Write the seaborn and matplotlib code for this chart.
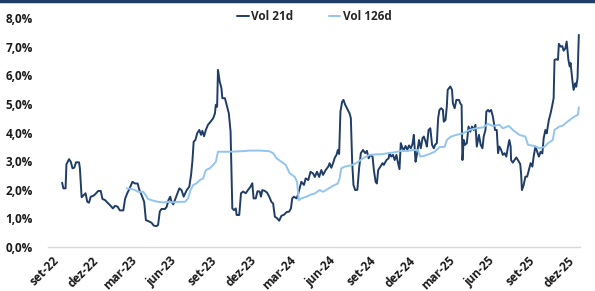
import pandas as pd
import matplotlib.pyplot as plt
import matplotlib.ticker as mticker
from matplotlib.lines import Line2D
import seaborn as sns

# ─── DATA ─────────────────────────────────────────────────────────────────────
vol21_dates = [
    "2022-09-24", "2022-09-27", "2022-10-02", "2022-10-04", "2022-10-10", "2022-10-14",
    "2022-10-18", "2022-10-22", "2022-10-26", "2022-11-02", "2022-11-04", "2022-11-08",
    "2022-11-12", "2022-11-17", "2022-11-21", "2022-11-25", "2022-11-29", "2022-12-05",
    "2022-12-09", "2022-12-16", "2022-12-22", "2022-12-26", "2023-01-01", "2023-01-06",
    "2023-01-12", "2023-01-19", "2023-01-24", "2023-01-30", "2023-02-04", "2023-02-12",
    "2023-02-16", "2023-02-21", "2023-02-26", "2023-03-05", "2023-03-11", "2023-03-17",
    "2023-03-21", "2023-03-26", "2023-04-01", "2023-04-05", "2023-04-10", "2023-04-18",
    "2023-04-23", "2023-04-29", "2023-05-03", "2023-05-07", "2023-05-11", "2023-05-19",
    "2023-05-23", "2023-05-27", "2023-05-31", "2023-06-03", "2023-06-07", "2023-06-11",
    "2023-06-15", "2023-06-21", "2023-06-26", "2023-07-01", "2023-07-08", "2023-07-14",
    "2023-07-18", "2023-07-21", "2023-07-24", "2023-07-28", "2023-08-01", "2023-08-06",
    "2023-08-10", "2023-08-13", "2023-08-17", "2023-08-21", "2023-08-26", "2023-09-01",
    "2023-09-07", "2023-09-11", "2023-09-13", "2023-09-16", "2023-09-18", "2023-09-22",
    "2023-09-26", "2023-09-28", "2023-10-04", "2023-10-08", "2023-10-13", "2023-10-17",
    "2023-10-19", "2023-10-21", "2023-10-25", "2023-10-29", "2023-10-31", "2023-11-06",
    "2023-11-10", "2023-11-15", "2023-11-21", "2023-11-26", "2023-12-02", "2023-12-06",
    "2023-12-09", "2023-12-14", "2023-12-18", "2023-12-23", "2023-12-26", "2023-12-29",
    "2024-01-04", "2024-01-09", "2024-01-14", "2024-01-19", "2024-01-23", "2024-01-27",
    "2024-02-01", "2024-02-06", "2024-02-11", "2024-02-17", "2024-02-23", "2024-02-29",
    "2024-03-04", "2024-03-07", "2024-03-11", "2024-03-17", "2024-03-20", "2024-03-24",
    "2024-03-28", "2024-04-03", "2024-04-07", "2024-04-13", "2024-04-18", "2024-04-24",
    "2024-04-28", "2024-05-03", "2024-05-08", "2024-05-13", "2024-05-17", "2024-05-23",
    "2024-05-29", "2024-06-01", "2024-06-05", "2024-06-09", "2024-06-13", "2024-06-17",
    "2024-06-20", "2024-06-23", "2024-06-26", "2024-06-30", "2024-07-03", "2024-07-07",
    "2024-07-11", "2024-07-17", "2024-07-20", "2024-07-23", "2024-07-26", "2024-07-30",
    "2024-08-04", "2024-08-08", "2024-08-12", "2024-08-17", "2024-08-22", "2024-08-26",
    "2024-08-30", "2024-09-03", "2024-09-08", "2024-09-11", "2024-09-15", "2024-09-18",
    "2024-09-21", "2024-09-26", "2024-10-01", "2024-10-04", "2024-10-10", "2024-10-15",
    "2024-10-17", "2024-10-21", "2024-10-25", "2024-10-29", "2024-11-02", "2024-11-05",
    "2024-11-09", "2024-11-12", "2024-11-16", "2024-11-19", "2024-11-23", "2024-11-27",
    "2024-12-01", "2024-12-05", "2024-12-09", "2024-12-12", "2024-12-16", "2024-12-19",
    "2024-12-24", "2024-12-28", "2025-01-01", "2025-01-04", "2025-01-08", "2025-01-11",
    "2025-01-15", "2025-01-19", "2025-01-23", "2025-01-27", "2025-01-30", "2025-02-03",
    "2025-02-06", "2025-02-09", "2025-02-13", "2025-02-17", "2025-02-19", "2025-02-23",
    "2025-02-26", "2025-02-28", "2025-03-06", "2025-03-10", "2025-03-12", "2025-03-16",
    "2025-03-20", "2025-03-26", "2025-03-29", "2025-04-01", "2025-04-03", "2025-04-06",
    "2025-04-09", "2025-04-13", "2025-04-17", "2025-04-21", "2025-04-25", "2025-04-29",
    "2025-05-03", "2025-05-06", "2025-05-11", "2025-05-15", "2025-05-19", "2025-05-22",
    "2025-05-26", "2025-05-28", "2025-06-01", "2025-06-04", "2025-06-08", "2025-06-12",
    "2025-06-17", "2025-06-21", "2025-06-24", "2025-06-27", "2025-07-01", "2025-07-05",
    "2025-07-09", "2025-07-13", "2025-07-17", "2025-07-20", "2025-07-23", "2025-07-24",
    "2025-07-28", "2025-08-01", "2025-08-05", "2025-08-10", "2025-08-14", "2025-08-16",
    "2025-08-18", "2025-08-22", "2025-08-26", "2025-08-30", "2025-09-03", "2025-09-07",
    "2025-09-11", "2025-09-14", "2025-09-18", "2025-09-22", "2025-09-26", "2025-09-30",
    "2025-10-04", "2025-10-07", "2025-10-11", "2025-10-14", "2025-10-19", "2025-10-23",
    "2025-10-27", "2025-10-30", "2025-11-01", "2025-11-05", "2025-11-09", "2025-11-11",
    "2025-11-15", "2025-11-19", "2025-11-22", "2025-11-26", "2025-11-29", "2025-12-03",
    "2025-12-06", "2025-12-08", "2025-12-12", "2025-12-15", "2025-12-19", "2025-12-21",
    "2025-12-24", "2025-12-27",
]
vol21_values = [
    2.25, 2.05, 2.05, 2.89, 3.07, 2.98, 2.75, 2.77, 2.96, 2.96, 2.75, 1.74,
    1.80, 1.88, 1.58, 1.55, 1.76, 1.79, 1.84, 1.96, 1.96, 1.68, 1.64, 1.56,
    1.47, 1.35, 1.44, 1.41, 1.28, 1.28, 1.68, 1.88, 2.03, 2.28, 2.22, 2.22,
    1.99, 1.82, 1.58, 0.94, 0.91, 0.85, 0.75, 0.73, 0.77, 1.24, 1.33, 1.33,
    1.41, 1.64, 1.76, 1.58, 1.49, 1.65, 1.80, 2.05, 1.99, 1.76, 1.99, 2.11,
    2.52, 2.98, 3.68, 3.74, 3.97, 4.09, 3.92, 4.06, 3.87, 4.09, 4.27, 4.38,
    4.50, 4.67, 4.97, 4.90, 6.19, 5.78, 5.55, 5.20, 5.20, 4.97, 4.67, 4.03,
    2.63, 1.35, 1.29, 1.35, 1.12, 1.12, 1.88, 1.94, 1.88, 1.99, 2.11, 2.23,
    1.70, 1.70, 1.95, 1.94, 1.76, 1.99, 1.96, 1.90, 1.76, 1.58, 1.52, 1.06,
    1.01, 0.92, 1.09, 1.13, 1.22, 1.24, 1.35, 1.70, 1.76, 1.70, 1.82, 2.05,
    2.28, 2.17, 2.40, 2.34, 2.63, 2.57, 2.45, 2.63, 2.45, 2.69, 2.52, 2.69,
    2.81, 2.93, 2.77, 2.93, 3.12, 3.22, 3.39, 3.25, 4.73, 5.08, 5.14, 4.97,
    4.85, 4.67, 4.50, 2.98, 2.17, 1.99, 2.00, 2.75, 3.28, 3.39, 3.28, 3.36,
    3.10, 3.22, 3.16, 2.69, 2.28, 2.22, 2.69, 2.81, 2.93, 2.87, 3.04, 3.10,
    3.28, 3.16, 3.22, 3.04, 3.22, 2.98, 2.72, 3.63, 3.45, 3.40, 3.53, 3.40,
    3.55, 3.45, 3.60, 3.92, 2.98, 3.22, 3.74, 3.45, 3.80, 3.86, 3.69, 3.51,
    4.09, 4.15, 3.57, 3.45, 3.57, 3.63, 4.50, 4.79, 4.85, 4.79, 4.38, 4.44,
    4.91, 5.49, 5.61, 5.49, 5.02, 4.85, 5.14, 5.14, 5.02, 4.96, 3.04, 3.74,
    3.57, 3.63, 4.21, 4.03, 4.21, 4.09, 4.27, 3.51, 3.92, 3.57, 3.45, 3.86,
    4.09, 4.73, 4.79, 4.73, 4.79, 4.56, 4.09, 4.09, 3.28, 3.51, 3.40, 3.22,
    3.28, 3.16, 3.51, 3.74, 3.51, 3.04, 2.95, 3.04, 3.13, 3.01, 2.90, 2.58,
    1.99, 2.17, 2.46, 2.46, 2.69, 2.93, 2.81, 3.16, 3.51, 3.33, 3.16, 3.33,
    3.27, 3.80, 4.09, 3.97, 4.44, 4.67, 4.96, 5.20, 6.54, 6.56, 6.54, 7.10,
    7.00, 7.02, 6.86, 6.94, 7.18, 6.54, 6.31, 6.43, 5.84, 5.49, 5.72, 5.60,
    5.90, 7.41,
]

vol126_dates = [
    "2023-02-20", "2023-03-03", "2023-03-11", "2023-03-18", "2023-03-30", "2023-04-04",
    "2023-04-10", "2023-04-22", "2023-05-03", "2023-05-15", "2023-05-27", "2023-06-07",
    "2023-06-18", "2023-07-04", "2023-07-11", "2023-07-17", "2023-07-23", "2023-07-31",
    "2023-08-07", "2023-08-15", "2023-08-21", "2023-08-30", "2023-09-07", "2023-09-13",
    "2023-09-18", "2023-09-30", "2023-10-15", "2023-10-31", "2023-11-15", "2023-11-30",
    "2023-12-23", "2024-01-14", "2024-01-23", "2024-01-31", "2024-02-11", "2024-02-21",
    "2024-03-01", "2024-03-13", "2024-03-18", "2024-03-22", "2024-03-28", "2024-04-09",
    "2024-04-20", "2024-04-28", "2024-05-09", "2024-05-17", "2024-05-28", "2024-06-09",
    "2024-06-20", "2024-06-24", "2024-06-28", "2024-07-06", "2024-07-20", "2024-08-01",
    "2024-08-17", "2024-09-01", "2024-09-17", "2024-09-28", "2024-10-14", "2024-10-29",
    "2024-11-13", "2024-11-25", "2024-12-10", "2024-12-21", "2024-12-27", "2025-01-06",
    "2025-01-17", "2025-01-29", "2025-02-09", "2025-02-21", "2025-02-26", "2025-03-08",
    "2025-03-20", "2025-04-04", "2025-04-19", "2025-05-05", "2025-05-20", "2025-06-01",
    "2025-06-12", "2025-06-27", "2025-07-05", "2025-07-19", "2025-07-28", "2025-08-12",
    "2025-08-26", "2025-09-01", "2025-09-16", "2025-09-27", "2025-10-09", "2025-10-17",
    "2025-10-28", "2025-11-01", "2025-11-12", "2025-11-20", "2025-11-26", "2025-12-06",
    "2025-12-17", "2025-12-25", "2025-12-27",
]
vol126_values = [
    2.05, 2.03, 1.99, 1.93, 1.93, 1.82, 1.68, 1.62, 1.58, 1.56, 1.58, 1.56,
    1.58, 1.58, 1.70, 1.99, 2.17, 2.23, 2.34, 2.40, 2.69, 2.75, 2.87, 2.98,
    3.33, 3.33, 3.33, 3.34, 3.35, 3.37, 3.37, 3.35, 3.28, 3.10, 2.98, 2.87,
    2.58, 2.45, 2.28, 1.64, 1.70, 1.76, 1.84, 1.87, 1.99, 1.93, 2.03, 2.14,
    2.22, 2.40, 2.75, 2.81, 2.85, 2.93, 3.10, 3.22, 3.24, 3.24, 3.28, 3.31,
    3.36, 3.35, 3.39, 3.39, 3.16, 3.19, 3.25, 3.33, 3.49, 3.50, 3.74, 3.86,
    3.92, 3.97, 4.09, 4.15, 4.18, 4.30, 4.23, 4.27, 4.15, 4.23, 4.09, 3.92,
    3.86, 3.57, 3.53, 3.45, 3.50, 3.63, 3.74, 4.09, 4.21, 4.24, 4.32, 4.44,
    4.56, 4.62, 4.88,
]

tick_dates = ["2022-09-01", "2022-12-01", "2023-03-01", "2023-06-01", "2023-09-01",
              "2023-12-01", "2024-03-01", "2024-06-01", "2024-09-01", "2024-12-01",
              "2025-03-01", "2025-06-01", "2025-09-01", "2025-12-01"]
tick_labels = ["set-22", "dez-22", "mar-23", "jun-23", "set-23", "dez-23", "mar-24",
               "jun-24", "set-24", "dez-24", "mar-25", "jun-25", "set-25", "dez-25"]

series_names = ["Vol 21d", "Vol 126d"]
series_colors = ["#1F3D66", "#92C5F0"]

# ─── BUILD LONG TABLE ─────────────────────────────────────────────────────────
df = pd.concat([
    pd.DataFrame({"data": pd.to_datetime(vol21_dates), "vol": vol21_values, "serie": series_names[0]}),
    pd.DataFrame({"data": pd.to_datetime(vol126_dates), "vol": vol126_values, "serie": series_names[1]}),
], ignore_index=True)

sns.set_theme(style="white")
plt.rcParams["font.family"] = ["Open Sans", "DejaVu Sans"]

fig = plt.figure(figsize=(5.95, 2.91), dpi=100)
ax = fig.add_axes([0.081, 0.151, 0.894, 0.787])

sns.lineplot(data=df, x="data", y="vol", hue="serie", hue_order=series_names,
             palette=series_colors, linewidth=1.4, ax=ax, legend=False)

ax.set_ylim(0, 8)
ax.set_xlim(pd.Timestamp("2022-08-23"), pd.Timestamp("2025-12-30"))
ax.yaxis.set_major_locator(mticker.MultipleLocator(1))
ax.yaxis.set_major_formatter(
    mticker.FuncFormatter(lambda v, _: f"{v:.1f}%".replace(".", ",")))
ax.set_xticks(pd.to_datetime(tick_dates))
ax.set_xticklabels(tick_labels, rotation=45, ha="right", rotation_mode="anchor")

ax.tick_params(axis="both", length=0, labelsize=8.5, colors="#1a1a1a")
ax.tick_params(axis="y", pad=11)
ax.tick_params(axis="x", pad=5)
for lbl in ax.get_xticklabels() + ax.get_yticklabels():
    lbl.set_fontweight("bold")

ax.set_xlabel("")
ax.set_ylabel("")
for side in ["top", "right", "left"]:
    ax.spines[side].set_visible(False)
ax.spines["bottom"].set_color("#d9d9d9")
ax.spines["bottom"].set_linewidth(1.0)
ax.grid(False)

handles = [Line2D([0], [0], color=c, lw=1.4) for c in series_colors]
ax.legend(handles, series_names, loc="upper center", bbox_to_anchor=(0.5, 1.08),
          ncol=2, frameon=False, handlelength=1.0, handletextpad=0.2,
          columnspacing=3.0, prop={"weight": "bold", "size": 8.5})

# dark rule across the top of the figure
fig.add_artist(Line2D([0, 1], [0.996, 0.996], transform=fig.transFigure,
                      color="#1F3D66", linewidth=2.5))

plt.savefig("out.png", dpi=100)
plt.close()
